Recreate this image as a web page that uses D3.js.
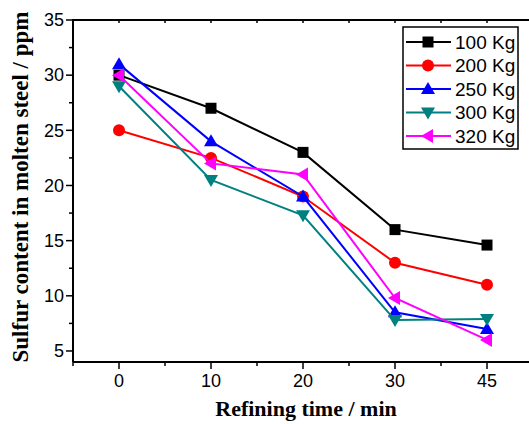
<!DOCTYPE html>
<html>
<head>
<meta charset="utf-8">
<script src="https://cdn.jsdelivr.net/npm/d3@7"></script>
<style>
  body { margin: 0; background: #fff; }
  svg { display: block; }
  .tick-label { font-family: "Liberation Sans", Arial, sans-serif; font-size: 18px; fill: #000; }
  .axis-title { font-family: "Liberation Serif", "Times New Roman", serif; font-weight: bold; fill: #000; }
  .legend-text { font-family: "Liberation Sans", Arial, sans-serif; font-size: 19px; fill: #000; }
</style>
</head>
<body>
<svg width="529" height="424"></svg>
<script>
// refining time categories (evenly spaced on the axis)
var times = ["0", "10", "20", "30", "45"];

var names = ["100 Kg", "200 Kg", "250 Kg", "300 Kg", "320 Kg"];
var kg100 = [30, 27, 23, 16, 14.6];
var kg200 = [25, 22.5, 19, 13, 11];
var kg250 = [31, 24, 19, 8.5, 7];
var kg300 = [29, 20.5, 17.3, 7.8, 7.9];
var kg320 = [30, 22, 21, 9.8, 6];

var yTicks = [5, 10, 15, 20, 25, 30, 35];

var series = [
  {name: names[0], values: kg100, color: "#000000", shape: "square"},
  {name: names[1], values: kg200, color: "#ff0000", shape: "circle"},
  {name: names[2], values: kg250, color: "#0000ff", shape: "up"},
  {name: names[3], values: kg300, color: "#008080", shape: "down"},
  {name: names[4], values: kg320, color: "#ff00ff", shape: "left"}
];

var svg = d3.select("svg"),
    pl = 73, pt = 20, pb = 362, pr = 533;

var x = d3.scaleLinear().domain([-0.5, 4.5]).range([pl, pr]);
var y = d3.scaleLinear().domain([4, 35]).range([pb, pt]);

// marker paths
function marker(shape) {
  if (shape == "square") return "M-5.5,-5.5H5.5V5.5H-5.5Z";
  if (shape == "up") return "M0,-7L7,5H-7Z";
  if (shape == "down") return "M0,7L7,-5H-7Z";
  if (shape == "left") return "M-7,0L5,-7V7Z";
  return null;
}

// frame (left, top, bottom)
svg.append("path")
    .attr("d", "M" + pl + "," + pb + "V" + pt + "H" + pr)
    .attr("fill", "none").attr("stroke", "#000").attr("stroke-width", 2);
svg.append("line")
    .attr("x1", pl).attr("x2", pr).attr("y1", pb).attr("y2", pb)
    .attr("stroke", "#000").attr("stroke-width", 2);

// y ticks
var yMinor = d3.range(7.5, 35, 5);
svg.selectAll(".ymaj").data(yTicks).enter().append("line")
    .attr("x1", pl - 7).attr("x2", pl)
    .attr("y1", function(d) { return y(d); }).attr("y2", function(d) { return y(d); })
    .attr("stroke", "#000").attr("stroke-width", 1.5);
svg.selectAll(".ymin").data(yMinor).enter().append("line")
    .attr("x1", pl - 4).attr("x2", pl)
    .attr("y1", function(d) { return y(d); }).attr("y2", function(d) { return y(d); })
    .attr("stroke", "#000").attr("stroke-width", 1.5);
svg.selectAll(".ylab").data(yTicks).enter().append("text")
    .attr("class", "tick-label")
    .attr("x", pl - 9).attr("y", function(d) { return y(d); })
    .attr("dy", "0.35em").attr("text-anchor", "end")
    .text(function(d) { return d; });

// x ticks (bottom outward, top inward)
var xIdx = d3.range(times.length);
var xMinor = d3.range(-0.5, 4.6, 1);
svg.selectAll(".xmaj").data(xIdx).enter().append("line")
    .attr("x1", function(d) { return x(d); }).attr("x2", function(d) { return x(d); })
    .attr("y1", pb).attr("y2", pb + 7)
    .attr("stroke", "#000").attr("stroke-width", 1.5);
svg.selectAll(".xmin").data(xMinor).enter().append("line")
    .attr("x1", function(d) { return x(d); }).attr("x2", function(d) { return x(d); })
    .attr("y1", pb).attr("y2", pb + 4)
    .attr("stroke", "#000").attr("stroke-width", 1.5);
svg.selectAll(".xtop").data(xIdx.concat(xMinor)).enter().append("line")
    .attr("x1", function(d) { return x(d); }).attr("x2", function(d) { return x(d); })
    .attr("y1", pt).attr("y2", pt + 3)
    .attr("stroke", "#000").attr("stroke-width", 1.5);
svg.selectAll(".xlab").data(xIdx).enter().append("text")
    .attr("class", "tick-label")
    .attr("x", function(d) { return x(d); }).attr("y", 387)
    .attr("text-anchor", "middle")
    .text(function(d) { return times[d]; });

// axis titles
svg.append("text").attr("class", "axis-title")
    .style("font-size", "22px")
    .attr("x", 306).attr("y", 416).attr("text-anchor", "middle")
    .text("Refining time / min");
svg.append("text").attr("class", "axis-title")
    .style("font-size", "23px")
    .attr("transform", "translate(28,187) rotate(-90)")
    .attr("text-anchor", "middle")
    .text("Sulfur content in molten steel / ppm");

// series
var line = d3.line()
    .x(function(d, i) { return x(i); })
    .y(function(d) { return y(d); });

series.forEach(function(s) {
  svg.append("path").datum(s.values)
      .attr("d", line).attr("fill", "none")
      .attr("stroke", s.color).attr("stroke-width", 2);
  s.values.forEach(function(v, i) {
    drawMarker(s, x(i), y(v));
  });
});

function drawMarker(s, cx, cy) {
  if (s.shape == "circle") {
    svg.append("circle").attr("cx", cx).attr("cy", cy).attr("r", 6).attr("fill", s.color);
  } else {
    svg.append("path").attr("d", marker(s.shape))
        .attr("transform", "translate(" + cx + "," + cy + ")")
        .attr("fill", s.color);
  }
}

// legend
var lg = {x: 403, y: 27, w: 115, h: 122, row: 23.5};
svg.append("rect")
    .attr("x", lg.x).attr("y", lg.y).attr("width", lg.w).attr("height", lg.h)
    .attr("fill", "#fff").attr("stroke", "#000").attr("stroke-width", 1.5);
series.forEach(function(s, i) {
  var cy = lg.y + 15 + i * lg.row;
  svg.append("line").attr("x1", lg.x + 3).attr("x2", lg.x + 48)
      .attr("y1", cy).attr("y2", cy)
      .attr("stroke", s.color).attr("stroke-width", 2);
  drawMarker(s, lg.x + 25, cy);
  svg.append("text").attr("class", "legend-text")
      .attr("x", lg.x + 52).attr("y", cy).attr("dy", "0.35em")
      .text(s.name);
});
</script>
</body>
</html>
